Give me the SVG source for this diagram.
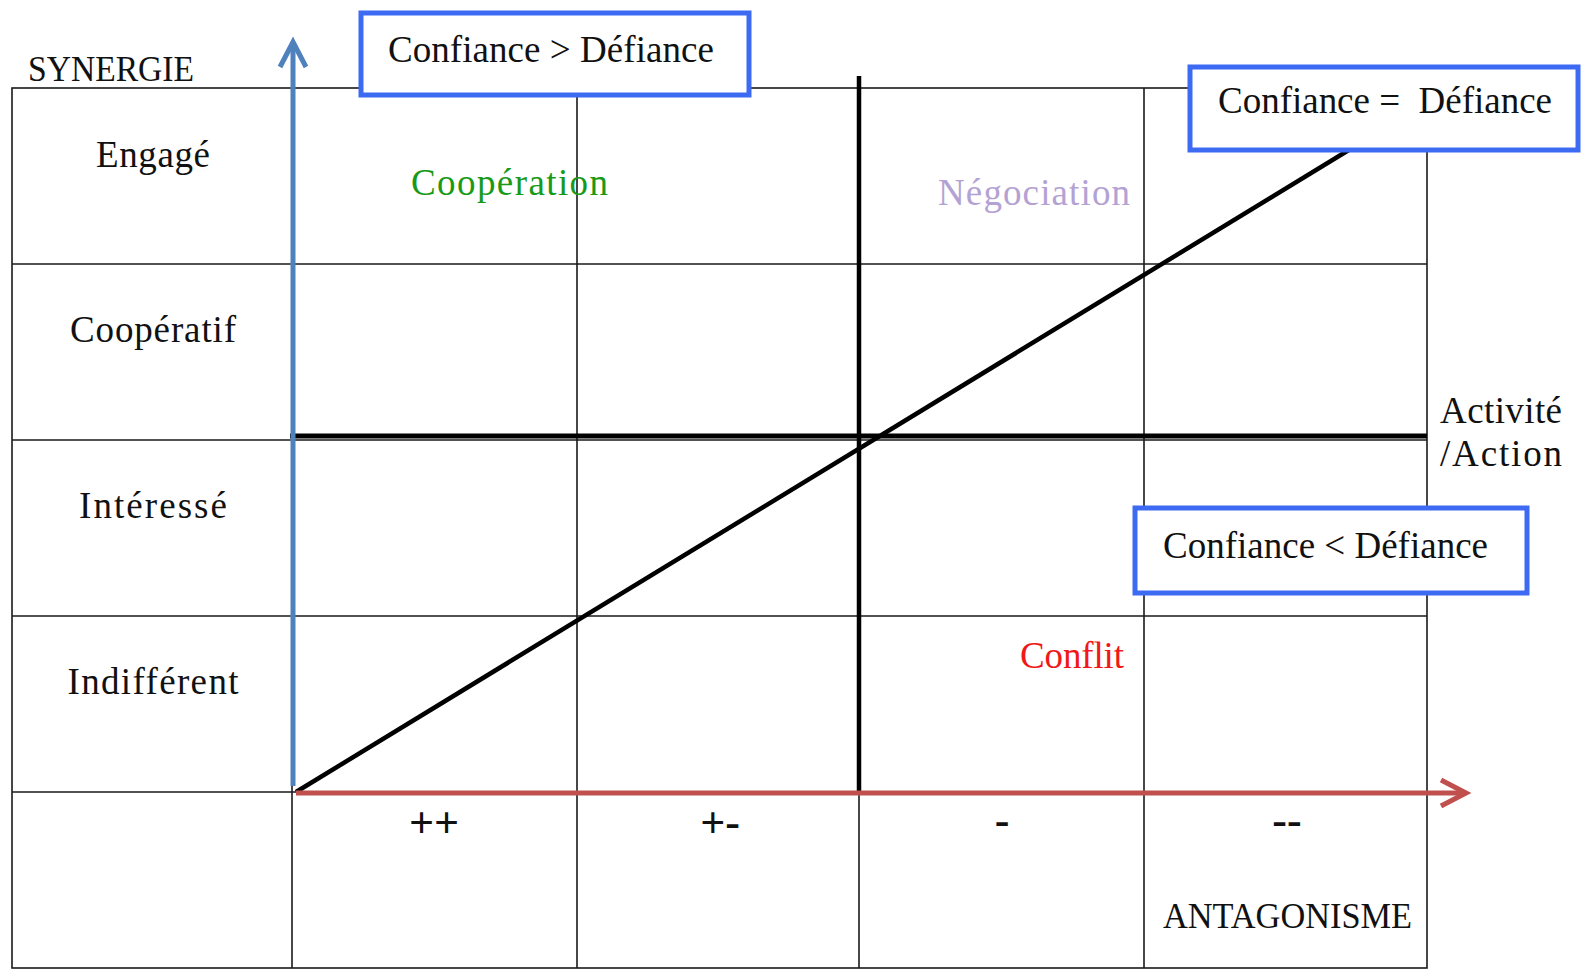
<svg xmlns="http://www.w3.org/2000/svg" width="1581" height="969" viewBox="0 0 1581 969">
<style>
text { font-family: "Liberation Serif", "Times New Roman", serif; fill: #111; }
.lbl { font-size: 37px; }
.mid { text-anchor: middle; }
.sym { font-size: 44px; font-weight: bold; text-anchor: middle; }
.caps { font-size: 36px; }
.grid { stroke: #1a1a1a; stroke-width: 1.6; fill: none; }
.thick { stroke: #000; stroke-width: 4.5; fill: none; }
.box { fill: #fff; stroke: #3d6af2; stroke-width: 5; }
</style>
<defs>
<marker id="arrBlue" markerUnits="userSpaceOnUse" viewBox="-32 -20 40 40" markerWidth="40" markerHeight="40" refX="0" refY="0" orient="auto">
<path d="M-25,-13 L0,0 L-25,13" fill="none" stroke="#4f81bd" stroke-width="5" stroke-linejoin="miter"/>
</marker>
<marker id="arrRed" markerUnits="userSpaceOnUse" viewBox="-32 -20 40 40" markerWidth="40" markerHeight="40" refX="0" refY="0" orient="auto">
<path d="M-25,-13 L0,0 L-25,13" fill="none" stroke="#c0504d" stroke-width="5" stroke-linejoin="miter"/>
</marker>
</defs>

<g id="table">
<rect x="12" y="88" width="1415" height="880" class="grid"/>
<line x1="12" y1="264" x2="1427" y2="264" class="grid"/>
<line x1="12" y1="440" x2="1427" y2="440" class="grid"/>
<line x1="12" y1="616" x2="1427" y2="616" class="grid"/>
<line x1="12" y1="792" x2="1427" y2="792" class="grid"/>
<line x1="292" y1="88" x2="292" y2="968" class="grid"/>
<line x1="577" y1="88" x2="577" y2="968" class="grid"/>
<line x1="859" y1="88" x2="859" y2="968" class="grid"/>
<line x1="1144" y1="88" x2="1144" y2="968" class="grid"/>
</g>

<g id="connectors">
<line id="diagonal" x1="296" y1="792" x2="1380" y2="131" class="thick"/>
<line id="axis-activite" x1="290" y1="436" x2="1427" y2="436" stroke="#000" stroke-width="5"/>
<line id="axis-centre" x1="859" y1="76" x2="859" y2="793" class="thick"/>
<line id="axis-synergie" x1="293" y1="786" x2="293" y2="42" stroke="#4f81bd" stroke-width="5" marker-end="url(#arrBlue)"/>
<line id="axis-antagonisme" x1="296" y1="793" x2="1466" y2="793" stroke="#c0504d" stroke-width="5" marker-end="url(#arrRed)"/>
</g>

<g id="box-sup">
<rect x="361" y="13" width="388" height="82" class="box"/>
<text x="388" y="62" class="lbl" textLength="326">Confiance &gt; Défiance</text>
</g>
<g id="box-egal">
<rect x="1190" y="67" width="388" height="83" class="box"/>
<text x="1218" y="113" class="lbl" textLength="334" style="white-space:pre">Confiance =  Défiance</text>
</g>
<g id="box-inf">
<rect x="1135" y="508" width="392" height="85" class="box"/>
<text x="1163" y="558" class="lbl" textLength="325">Confiance &lt; Défiance</text>
</g>

<g id="label-synergie"><text x="28" y="81" class="caps" textLength="166" lengthAdjust="spacingAndGlyphs">SYNERGIE</text></g>
<g id="label-engage"><text x="153" y="167" class="lbl mid" textLength="114">Engagé</text></g>
<g id="label-cooperatif"><text x="153" y="342" class="lbl mid" textLength="166">Coopératif</text></g>
<g id="label-interesse"><text x="153" y="518" class="lbl mid" textLength="148">Intéressé</text></g>
<g id="label-indifferent"><text x="153" y="694" class="lbl mid" textLength="171">Indifférent</text></g>

<g id="label-cooperation"><text x="411" y="195" class="lbl" textLength="197" style="fill:#189a18">Coopération</text></g>
<g id="label-negociation"><text x="938" y="205" class="lbl" textLength="192" style="fill:#b3a2d3">Négociation</text></g>
<g id="label-conflit"><text x="1020" y="668" class="lbl" textLength="104" style="fill:#f01818">Conflit</text></g>

<g id="label-activite">
<text x="1440" y="423" class="lbl" textLength="122">Activité</text>
<text x="1440" y="466" class="lbl" textLength="122">/Action</text>
</g>

<g id="label-pp"><text x="434" y="837" class="sym">++</text></g>
<g id="label-pm"><text x="720" y="837" class="sym">+-</text></g>
<g id="label-m"><text x="1002" y="835" class="sym">-</text></g>
<g id="label-mm"><text x="1287" y="835" class="sym">--</text></g>
<g id="label-antagonisme"><text x="1163" y="928" class="caps" textLength="249" lengthAdjust="spacingAndGlyphs">ANTAGONISME</text></g>
</svg>
